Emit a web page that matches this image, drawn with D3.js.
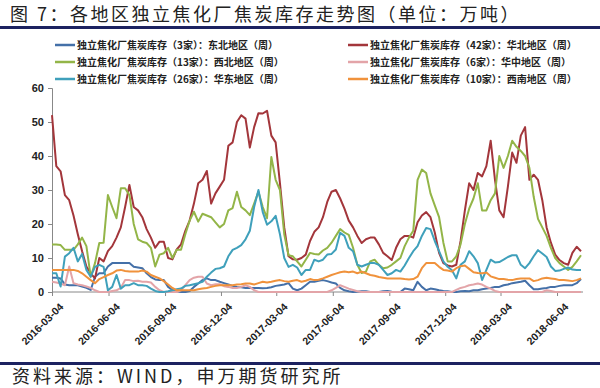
<!DOCTYPE html>
<html>
<head>
<meta charset="utf-8">
<script src="https://cdn.jsdelivr.net/npm/d3@7"></script>
<style>
  body { margin: 0; background: #fff; }
  svg { display: block; }
</style>
</head>
<body>
<svg id="chart"></svg>
<script>
const width = 600
const height = 388

// weekly data, first week 2016-03-04
const startDate = "2016-03-04"
const tickLabels = ["2016-03-04", "2016-06-04", "2016-09-04", "2016-12-04", "2017-03-04",
  "2017-06-04", "2017-09-04", "2017-12-04", "2018-03-04", "2018-06-04"]
const yTicks = [0, 10, 20, 30, 40, 50, 60]

const seriesNames = [
  "独立焦化厂焦炭库存（3家）：东北地区（周）",
  "独立焦化厂焦炭库存（42家）：华北地区（周）",
  "独立焦化厂焦炭库存（13家）：西北地区（周）",
  "独立焦化厂焦炭库存（6家）：华中地区（周）",
  "独立焦化厂焦炭库存（26家）：华东地区（周）",
  "独立焦化厂焦炭库存（10家）：西南地区（周）"
]

const dongbei = [
  4.2, 4.2, 4, 2.2, 2, 2, 2, 1.6, 1.2, 0.6,
  4.5, 5.5, 5.5, 7.5, 8.5, 8.5, 8.5, 8.5, 8.5, 7.4,
  7.2, 7, 5.5, 4.4, 3.7, 3.5, 3.5, 1.5, 0.6, 0.2,
  0, 0, 0.3, 1.5, 2.5, 3.5, 4, 3.5, 3.5, 3,
  2.6, 2.2, 1.8, 1.5, 1.4, 1.2, 1.2, 1.2, 1.2, 1.1,
  1.2, 1.4, 1.8, 2, 2.2, 2.6, 1, 0.5, 1, 2,
  3, 3, 3.3, 3.5, 3.2, 2.8, 2.5, 1.2, 0.5, 0.2,
  0, 0.1, 0.2, 0.2, 0, 0, 0, 0.2, 0.3, 0.1,
  0, 0, 1, 0.8, 0.5, 3, 1.5, 0.5, 1, 0.8,
  0.5, 0.3, 0.2, 0, 0, 0.2, 0.3, 0.2, 0.5, 0.5,
  0.8, 1, 1.2, 1.5, 1.5, 2, 2.2, 2.6, 2.8, 3,
  3.3, 2, 0.8, 0.8, 1, 1.2, 1.5, 1.5, 1.8, 2,
  2, 2, 2.6, 3.8
]

const huabei = [
  52, 37, 35.5, 28.5, 27, 22.5, 17, 12, 7.5, 5.5,
  4, 10, 9, 12, 13.5, 16, 19, 25, 31.5, 25,
  24, 22, 18.5, 16, 13, 14.8, 14.8, 10, 9.6, 12.5,
  14, 18, 21, 26, 32, 33, 35.6, 26, 29, 31,
  33, 43, 44, 50, 52, 51, 42.5, 48.5, 52.6, 52.5,
  53.3, 46, 44, 32, 19, 10.5, 9.6, 9.5, 10, 11,
  15, 17.7, 19, 22, 26.5, 29.5, 30, 27.5, 24.5, 21,
  19, 16.5, 14.4, 15.5, 16, 16, 14, 11.5, 10.5, 9.4,
  13, 15.5, 16.5, 16.5, 16, 20.5, 22.5, 23.5, 22, 17.5,
  11.5, 8.5, 7.8, 7.5, 8, 15, 24, 32, 30, 35,
  34, 37, 44.5, 33, 24, 22, 31, 41, 38, 46,
  48.5, 33, 34.5, 33, 27, 19, 14.5, 11, 9.4, 8.5,
  8, 11.5, 13.3, 12
]

const xibei = [
  14, 14, 13.8, 12.4, 12.4, 12.4, 14, 16, 13.5, 4.5,
  8.5, 14.4, 14.5, 28.5, 25, 21.7, 30.5, 30.5, 28.5, 20,
  15.5, 14.8, 14.4, 13, 7.5, 11, 11.4, 13, 10, 12.4,
  12.4, 17, 21, 23.6, 20.7, 23, 22.5, 22, 20.5, 19,
  20, 24, 24.7, 29.5, 25, 24, 22.6, 26, 29.5, 25,
  21.7, 39.7, 33, 30, 17, 10.8, 10.5, 9, 7.5, 9.5,
  11.5, 11.2, 11, 12.2, 13, 14.5, 16.5, 18.5, 17.5, 16.8,
  13, 8, 5.6, 6, 9, 9.5, 8, 7, 7.2, 8,
  9, 10, 13.5, 16, 18, 33, 36, 35, 29, 25.5,
  22, 14.5, 9, 9, 10.5, 14, 20, 24.5, 27.5, 32,
  24, 24, 27, 29, 40, 36.5, 40, 44.5, 42.7, 41.5,
  40, 36.5, 28, 21.5, 19, 16.5, 13, 10, 8.5, 7.5,
  6.5, 7.4, 9, 10.8
]

const huazhong = [
  3, 2.8, 2.5, 2, 7.5, 2.6, 2.2, 2, 1.6, 1.2,
  0.5, 0, 0, 0, 0.3, 0.5, 1.2, 3.5, 3.5, 3.2,
  3.3, 3, 3, 2.8, 1.5, 0.5, 0, 0, 0, 0,
  0.5, 2, 3.5, 4.2, 4.5, 4.5, 2.5, 2, 2.3, 2.3,
  1.7, 1.5, 1.2, 1.2, 1.5, 2, 1.5, 0.5, 0, 0,
  0, 0, 0, 0, 0, 0, 0, 0, 0, 0,
  0, 0, 0, 0, 0, 0.5, 1.2, 2, 1.5, 1,
  0.6, 0.2, 0, 0, 0, 0, 0, 0, 0, 0,
  0, 0, 0, 0, 0, 0, 0, 0, 0, 0,
  0, 0, 0, 0, 0.6, 1.2, 1.5, 2, 2.2, 2.5,
  2.2, 1.5, 1, 0.3, 0, 0, 0, 0, 0, 0,
  0, 0, 0, 0, 0, 0.5, 0.3, 0, 0, 0,
  0, 0, 0, 0
]

const huadong = [
  5.5, 5.5, 1.6, 10.4, 11.4, 13, 9, 11.2, 6.5, 4.5,
  7.4, 8, 7.4, 0.5, 1.5, 5, 1, 2, 2, 2.6,
  2, 2, 1.8, 1, 0.3, 0, 0, 0.2, 0.5, 0.8,
  1, 1.8, 2, 2.3, 2.6, 3, 4.5, 5.7, 6.8, 7,
  7.5, 10.5, 12.4, 13, 13.8, 15.5, 18, 25, 30, 23.5,
  19.8, 20.8, 22.4, 17, 10, 7.4, 8, 7.2, 5, 6.5,
  6.5, 9.5, 9, 9.5, 11, 11.2, 12.5, 17.4, 16.5, 13,
  12, 8, 7.5, 8, 8.5, 8.5, 8, 6.5, 5, 5.5,
  6.5, 6, 7.8, 10, 12, 13.5, 16.5, 18.8, 18.5, 15,
  12, 9, 7.4, 6.4, 4, 8, 9, 12, 10.5, 8.5,
  3.5, 6.5, 9.5, 8.7, 8.8, 9.5, 10.3, 10.8, 10.8, 8,
  7, 8.5, 10.5, 12.3, 11.3, 10.3, 7.5, 6.2, 6.3, 6.8,
  7.2, 6.6, 6.5, 6.5
]

const xinan = [
  6.5, 6.5, 6.5, 6.5, 6.5, 6.5, 6.2, 5.5, 4.5, 3.5,
  2.6, 3.8, 4.4, 5, 5.5, 6.3, 6.5, 6.2, 6, 6,
  6, 6.3, 6, 5, 4.5, 4, 3.2, 2.2, 1.2, 0.5,
  0.5, 0.5, 0.5, 0.5, 0.8, 1, 1.2, 1.5, 1.8, 2,
  2, 2, 2, 2.2, 2.3, 2.5, 2.5, 2.2, 2.6, 3,
  2.8, 3, 3.3, 3.5, 3.2, 3, 3.3, 3.5, 3, 3.3,
  3.8, 3.5, 3.6, 4, 4.5, 5, 5.4, 5.8, 6, 5.8,
  6, 5.5, 6, 5.5, 5, 4.8, 4.4, 4.2, 4, 4,
  4, 4, 3.8, 3.7, 3.8, 4.5, 7, 8.5, 8.5, 8.5,
  7.4, 6.5, 6.3, 6, 7, 7.6, 7.8, 6.8, 5.8, 5.6,
  5.5, 5.7, 4.6, 4.2, 3.8, 3.8, 3.6, 3.5, 3.8, 4,
  4, 4, 3.2, 3.5, 4, 4.2, 4, 3.8, 3.5, 3.5,
  3.4, 3.2, 3.5, 4
]

const seriesValues = [dongbei, huabei, xibei, huazhong, huadong, xinan]
const colors = ["#4470A8", "#A3363B", "#93B548", "#E3A4A8", "#3FA0BB", "#F0923C"]

const parse = d3.timeParse("%Y-%m-%d")
const format = d3.timeFormat("%Y-%m-%d")
const dates = dongbei.map((d, i) => d3.timeDay.offset(parse(startDate), 7 * i))

const svg = d3.select("#chart")
    .attr("width", width)
    .attr("height", height)
    .style("font-family", "'Noto Sans CJK SC', sans-serif")

svg.append("rect").attr("width", width).attr("height", height).attr("fill", "#fff")

// title and bars
svg.append("text")
  .attr("x", 10)
  .attr("y", 21)
  .attr("font-size", 18)
  .attr("letter-spacing", 2.5)
  .attr("fill", "#222")
  .text("图 7：各地区独立焦化厂焦炭库存走势图（单位：万吨）")

svg.append("rect").attr("x", 0).attr("y", 26).attr("width", width).attr("height", 3).attr("fill", "#1C2260")
svg.append("rect").attr("x", 0).attr("y", 362).attr("width", width).attr("height", 3).attr("fill", "#1C2260")

svg.append("text")
  .attr("x", 12)
  .attr("y", 383)
  .attr("font-size", 18)
  .attr("letter-spacing", 3)
  .attr("fill", "#222")
  .text("资料来源：WIND，申万期货研究所")

// scales
const x = d3.scaleTime()
  .domain([parse(tickLabels[0]), dates[dates.length - 1]])
  .range([52, 581])

const y = d3.scaleLinear()
  .domain([0, 60])
  .range([292, 88])

// axes
const yAxis = svg.append("g")
  .attr("transform", "translate(52,0)")
  .call(d3.axisLeft(y).tickValues(yTicks).tickSize(4).tickPadding(4))
yAxis.select(".domain").attr("stroke", "#888")
yAxis.selectAll(".tick line").attr("stroke", "#888")
yAxis.selectAll("text")
  .attr("font-family", "'Liberation Sans', Arial, sans-serif")
  .attr("font-weight", "bold")
  .attr("font-size", 11)
  .attr("fill", "#222")

const xAxis = svg.append("g")
  .attr("transform", "translate(0,292)")
  .call(d3.axisBottom(x).tickValues(tickLabels.map(parse)).tickFormat(format).tickSize(4).tickSizeOuter(0))
xAxis.select(".domain").attr("stroke", "#888").attr("d", "M52,0H583")
xAxis.selectAll(".tick line").attr("stroke", "#888")
xAxis.selectAll("text")
  .attr("font-family", "'Liberation Sans', Arial, sans-serif")
  .attr("font-weight", "bold")
  .attr("font-size", 10.5)
  .attr("fill", "#222")
  .attr("text-anchor", "end")
  .attr("dy", "0.35em")
  .attr("transform", "translate(4,8) rotate(-45)")

// lines
const line = d3.line()
  .x((d, i) => x(dates[i]))
  .y(d => y(d))

svg.append("g")
  .selectAll("path")
  .data(seriesValues)
  .join("path")
  .attr("d", line)
  .attr("fill", "none")
  .attr("stroke", (d, i) => colors[i])
  .attr("stroke-width", 2)
  .attr("stroke-linejoin", "round")

// legend, row-wise in two columns
const legend = svg.append("g")
  .selectAll("g")
  .data(seriesNames)
  .join("g")
  .attr("transform", (d, i) => `translate(${i % 2 === 0 ? 55 : 348},${45 + Math.floor(i / 2) * 17})`)

legend.append("line")
  .attr("x1", 0).attr("x2", 20)
  .attr("stroke", (d, i) => colors[i])
  .attr("stroke-width", 2.5)

legend.append("text")
  .attr("x", 22)
  .attr("dy", "0.35em")
  .attr("font-size", 10)
  .attr("font-weight", "bold")
  .attr("fill", "#222")
  .text(d => d)
</script>
</body>
</html>
